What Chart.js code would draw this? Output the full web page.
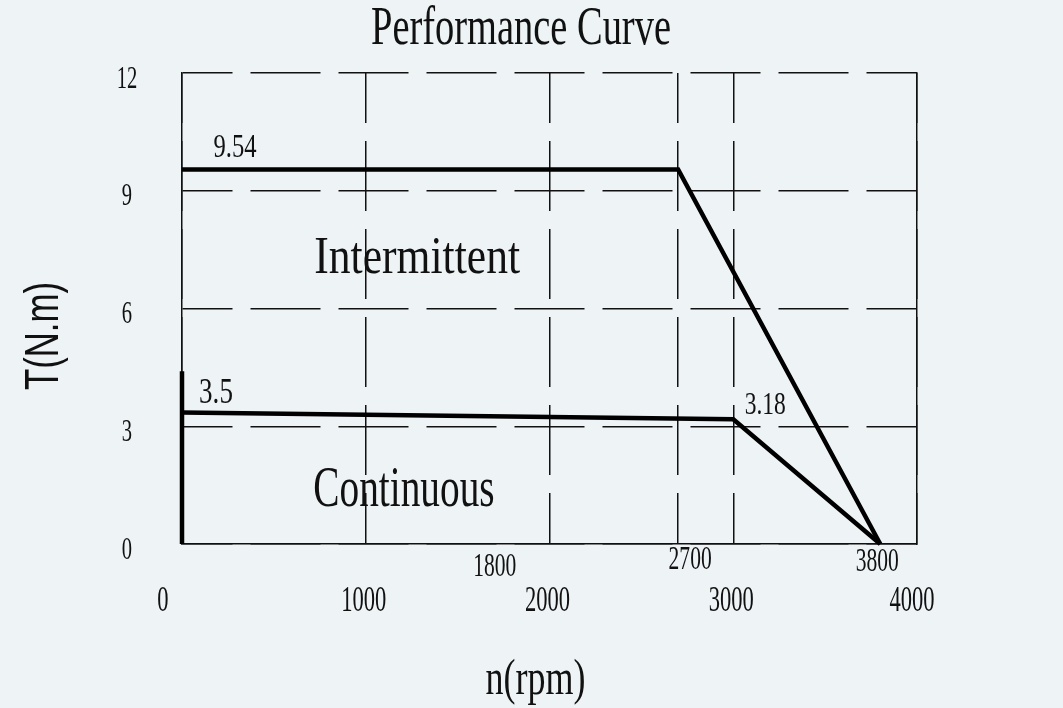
<!DOCTYPE html>
<html>
<head>
<meta charset="utf-8">
<title>Performance Curve</title>
<script src="https://cdn.jsdelivr.net/npm/chart.js@4.4.1/dist/chart.umd.min.js"></script>
<style>
  html, body { margin: 0; padding: 0; background: #eef3f6; }
  canvas { display: block; }
</style>
</head>
<body>
<canvas id="curve" width="1063" height="708"></canvas>
<script>
// speed (rpm) and torque (N.m)
const intermittentRpm = [0, 2700, 3800]
const intermittentTorque = [9.54, 9.54, 0]
const continuousRpm = [0, 3000, 3800]
const continuousTorque = [3.35, 3.18, 0]
const stubRpm = [0, 0]
const stubTorque = [0, 4.4]

const xTicks = [0, 1000, 2000, 3000, 4000]
const yTicks = [0, 3, 6, 9, 12]
const xGrid = [0, 1000, 2000, 2700, 3000, 4000]
const markedSpeeds = [1800, 2700, 3800]
const valueLabels = ['9.54', '3.5', '3.18']
const regionLabels = ['Intermittent', 'Continuous']

const ink = '#111'
const serif = '"Liberation Serif", "Times New Roman", serif'
const sans = '"Liberation Sans", Arial, sans-serif'

// the drawing uses a narrow fixed-pitch face, so squeeze a serif to that pitch
function narrowText(ctx, text, cx, cy, capH) {
  ctx.font = (capH / 0.66) + 'px ' + serif
  const w = ctx.measureText(text).width
  const sx = text.length * capH * 0.49 / w
  ctx.save()
  ctx.translate(cx, cy + capH / 2)
  ctx.scale(sx, 1)
  ctx.textAlign = 'center'
  ctx.textBaseline = 'alphabetic'
  ctx.fillStyle = ink
  ctx.fillText(text, 0, 0)
  ctx.restore()
}

const background = {
  id: 'background',
  beforeDraw(chart) {
    const ctx = chart.ctx
    ctx.save()
    ctx.fillStyle = '#eef3f6'
    ctx.fillRect(0, 0, chart.width, chart.height)
    ctx.restore()
  }
}

// offsets of labels from the point they describe (pixels)
const valueOffsets = [[53, -24], [34, -21], [32, -16]]
const valueAnchors = [[0, 0], [1, 0], [1, 1]]
const valueSizes = [22, 23, 21]
const markOffsets = [[-18, 21], [12, 14], [-3, 16]]
const regionAt = [[1280, 7.36], [1208, 1.45]]
const regionSizes = [35, 37]

const texts = {
  id: 'texts',
  afterDraw(chart) {
    const ctx = chart.ctx
    const xs = chart.scales.x
    const ys = chart.scales.y
    const area = chart.chartArea

    narrowText(ctx, 'Performance Curve', 521, 26, 36)

    xTicks.forEach(v => {
      let dx = -2
      if (v === xs.min) dx = -19
      if (v === xs.max) dx = -5
      narrowText(ctx, String(v), xs.getPixelForValue(v) + dx, area.bottom + 55, 23)
    })
    yTicks.forEach(v => {
      narrowText(ctx, String(v), area.left - 55, ys.getPixelForValue(v) + 4, 21)
    })
    markedSpeeds.forEach((v, i) => {
      narrowText(ctx, String(v), xs.getPixelForValue(v) + markOffsets[i][0], area.bottom + markOffsets[i][1], 22)
    })
    valueLabels.forEach((t, i) => {
      const pt = chart.getDatasetMeta(valueAnchors[i][0]).data[valueAnchors[i][1]]
      narrowText(ctx, t, pt.x + valueOffsets[i][0], pt.y + valueOffsets[i][1], valueSizes[i])
    })
    regionLabels.forEach((t, i) => {
      narrowText(ctx, t, xs.getPixelForValue(regionAt[i][0]), ys.getPixelForValue(regionAt[i][1]), regionSizes[i])
    })

    narrowText(ctx, 'n(rpm)', (area.left + area.right) / 2 - 14, area.bottom + 133, 34)

    // y title is a sans face, also squeezed
    ctx.save()
    ctx.font = '49px ' + sans
    const title = 'T(N.m)'
    const sx = 108 / ctx.measureText(title).width
    ctx.translate(40, 336)
    ctx.rotate(-Math.PI / 2)
    ctx.translate(0, 17.5)
    ctx.scale(sx, 1)
    ctx.textAlign = 'center'
    ctx.textBaseline = 'alphabetic'
    ctx.fillStyle = ink
    ctx.fillText(title, 0, 0)
    ctx.restore()
  }
}

const toPoints = (xs, ys) => xs.map((x, i) => ({ x: x, y: ys[i] }))
const lineStyle = {
  showLine: true,
  borderColor: '#000',
  borderWidth: 4.5,
  pointRadius: 0,
  tension: 0,
  borderJoinStyle: 'miter',
  fill: false,
  clip: false
}

new Chart(document.getElementById('curve'), {
  type: 'scatter',
  data: {
    datasets: [
      Object.assign({ label: 'Intermittent', data: toPoints(intermittentRpm, intermittentTorque) }, lineStyle),
      Object.assign({ label: 'Continuous', data: toPoints(continuousRpm, continuousTorque) }, lineStyle),
      Object.assign({ label: 'Start', data: toPoints(stubRpm, stubTorque) }, lineStyle)
    ]
  },
  options: {
    responsive: false,
    animation: false,
    devicePixelRatio: 1,
    layout: { padding: { left: 182, right: 146, top: 73, bottom: 164 } },
    plugins: {
      legend: { display: false },
      tooltip: { enabled: false },
      title: { display: false }
    },
    scales: {
      x: {
        type: 'linear',
        min: 0,
        max: 4000,
        afterBuildTicks: s => { s.ticks = xGrid.map(v => ({ value: v })) },
        ticks: { display: false },
        grid: { color: ink, lineWidth: 1.5, drawTicks: false },
        border: { display: true, color: ink, width: 1.5, dash: [70, 18], dashOffset: 20 }
      },
      y: {
        type: 'linear',
        min: 0,
        max: 12,
        afterBuildTicks: s => { s.ticks = yTicks.map(v => ({ value: v })) },
        ticks: { display: false },
        grid: { color: ink, lineWidth: 1.5, drawTicks: false },
        border: { display: true, color: ink, width: 1.5, dash: [70, 18], dashOffset: 20 }
      },
      y2: {
        type: 'linear',
        position: 'right',
        min: 0,
        max: 12,
        ticks: { display: false },
        grid: { display: false, drawTicks: false },
        border: { display: true, color: ink, width: 1.5 }
      }
    }
  },
  plugins: [background, texts]
})
</script>
</body>
</html>
